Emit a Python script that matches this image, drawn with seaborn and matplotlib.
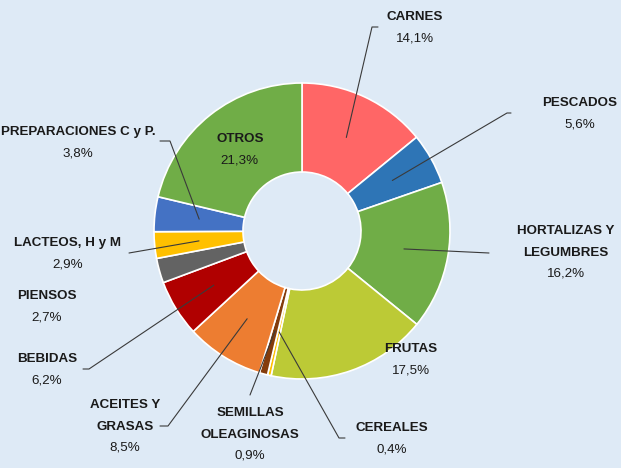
import numpy as np
import matplotlib
matplotlib.use("Agg")
import matplotlib.pyplot as plt
import seaborn as sns

# ---- data ----
categories = ["CARNES", "PESCADOS", "HORTALIZAS Y\nLEGUMBRES", "FRUTAS", "CEREALES",
              "SEMILLAS\nOLEAGINOSAS", "ACEITES Y\nGRASAS", "BEBIDAS", "PIENSOS",
              "LACTEOS, H y M", "PREPARACIONES C y P.", "OTROS"]
values = [14.1, 5.6, 16.2, 17.5, 0.4, 0.9, 8.5, 6.2, 2.7, 2.9, 3.8, 21.3]
pct_labels = ["14,1%", "5,6%", "16,2%", "17,5%", "0,4%", "0,9%", "8,5%", "6,2%",
              "2,7%", "2,9%", "3,8%", "21,3%"]
colors = ["#FF6666", "#2E75B6", "#70AD47", "#BCCA36", "#FFC000", "#843C0C",
          "#ED7D31", "#B00000", "#636363", "#FFC000", "#4472C4", "#70AD47"]

BG = "#DEEAF6"
sns.set_theme(style="white")
plt.rcParams['font.family'] = ['Liberation Sans Narrow', 'Liberation Sans', 'DejaVu Sans']

W, H = 621, 468
fig = plt.figure(figsize=(W / 100, H / 100), dpi=100, facecolor=BG)
ax = fig.add_axes([0, 0, 1, 1])
ax.set_facecolor(BG)

def py(y):  # pixel-from-top -> data y
    return H - y

cx, cy, R = 302, 231, 148
ring = 89
wedges, _ = ax.pie(values, colors=colors, startangle=90, counterclock=False,
                   center=(cx, py(cy)), radius=R, frame=True,
                   wedgeprops=dict(width=ring, edgecolor="white", linewidth=1.2))
ax.set_xlim(0, W)
ax.set_ylim(0, H)
ax.set_aspect('equal')
ax.axis('off')

# mid points of wedges (middle of ring)
mid = {}
for w, c in zip(wedges, categories):
    a = np.deg2rad((w.theta1 + w.theta2) / 2)
    rm = R - ring / 2
    mid[c] = (cx + rm * np.cos(a), py(cy) + rm * np.sin(a))

FS = 9.6
TXT = "#1A1A1A"
LINE = "#3A3A3A"

# label layout: (text center x, first line y from top, hook points)
layout = {
    "CARNES": (415, 17, [(378, 27), (372, 27)]),
    "PESCADOS": (580, 103, [(511, 113), (507, 113)]),
    "HORTALIZAS Y\nLEGUMBRES": (566, 231, [(489, 253)]),
    "FRUTAS": (411, 349, None),
    "CEREALES": (392, 428, [(345, 438), (339, 438)]),
    "SEMILLAS\nOLEAGINOSAS": (250, 413, [(250, 395)]),
    "ACEITES Y\nGRASAS": (125, 405, [(160, 426), (168, 426)]),
    "BEBIDAS": (47, 359, [(83, 369), (89, 369)]),
    "PIENSOS": (47, 296, None),
    "LACTEOS, H y M": (68, 243, [(129, 253)]),
    "PREPARACIONES C y P.": (78, 132, [(160, 141), (170, 141)]),
    "OTROS": (None, None, None),
}
LS = 21.5
for c, p in zip(categories, pct_labels):
    x, y0, hook = layout[c]
    if x is None:
        mx, my = mid[c]
        x, y0 = mx + 2, H - my - 11
    lines = c.split("\n")
    for i, t in enumerate(lines):
        ax.text(x, py(y0 + i * LS), t, ha="center", va="center", fontsize=FS,
                fontweight="bold", color=TXT)
    ax.text(x, py(y0 + len(lines) * LS), p, ha="center", va="center", fontsize=FS,
            color=TXT)
    if hook:
        pts = [(hx, py(hy)) for hx, hy in hook] + [mid[c]]
        xs, ys = zip(*pts)
        ax.plot(xs, ys, color=LINE, lw=0.8)

fig.savefig("out.png", dpi=100, facecolor=BG)
